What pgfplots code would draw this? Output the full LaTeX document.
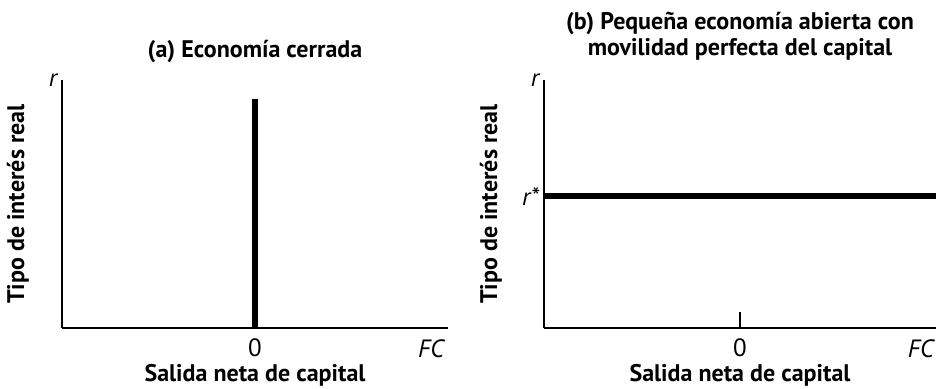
\documentclass[border=0pt]{standalone}
\usepackage{fontspec}
\setmainfont{PT Sans}
\usepackage{pgfplots}
\pgfplotsset{compat=1.18}

\pgfplotsset{
  panel/.style={
    scale only axis,
    clip=false,
    axis lines=left,
    axis line style={-, line width=1.2pt},
    xmin=-1, xmax=1, ymin=0, ymax=1,
    xtick={0}, xticklabels={0},
    tick align=inside,
    major tick length=16pt,
    tick style={line width=1.2pt, black},
    ticklabel style={font=\fontsize{25}{27}\selectfont},
    xticklabel style={yshift=-7pt},
    title style={font=\fontsize{24}{26}\selectfont\bfseries, align=center},
    xlabel={Salida neta de capital},
    xlabel style={font=\fontsize{24}{26}\selectfont\bfseries,
      at={(axis description cs:0.5,0)}, anchor=center, yshift=-47pt},
    ylabel={Tipo de interés real},
    ylabel style={font=\fontsize{24}{26}\selectfont\bfseries,
      at={(axis description cs:0,0.5)}, anchor=center},
  },
}

\begin{document}
\begin{tikzpicture}
\useasboundingbox (0,0) rectangle (936pt,388pt);

% (a) closed economy
\begin{axis}[panel,
  at={(62pt,60pt)}, anchor=south west,
  width=386pt, height=248pt,
  ytick={1}, yticklabels={\textit{r}},
  major tick length=0pt,
  ylabel style={yshift=44pt},
  title={(a) Economía cerrada},
  title style={yshift=8pt},
]
\addplot[line width=5.5pt, black] coordinates {(0,0) (0,0.923)};
\node[anchor=north east, font=\fontsize{25}{27}\selectfont\itshape, inner sep=0pt, yshift=-11pt]
  at (rel axis cs:0.99,0) {FC};
\end{axis}

% (b) small open economy
\begin{axis}[panel,
  at={(544pt,60pt)}, anchor=south west,
  width=392pt, height=248pt,
  extra y ticks={0.532,1}, extra y tick labels={\textit{r}*,\textit{r}},
  extra y tick style={major tick length=0pt},
  ytick=\empty,
  ylabel style={yshift=53pt},
  title={(b) Pequeña economía abierta con\\movilidad perfecta del capital},
  title style={yshift=10pt},
]
\addplot[line width=5.5pt, black] coordinates {(-1,0.532) (1,0.532)};
\node[anchor=north east, font=\fontsize{25}{27}\selectfont\itshape, inner sep=0pt, yshift=-11pt]
  at (rel axis cs:0.995,0) {FC};
\end{axis}
\end{tikzpicture}
\end{document}
